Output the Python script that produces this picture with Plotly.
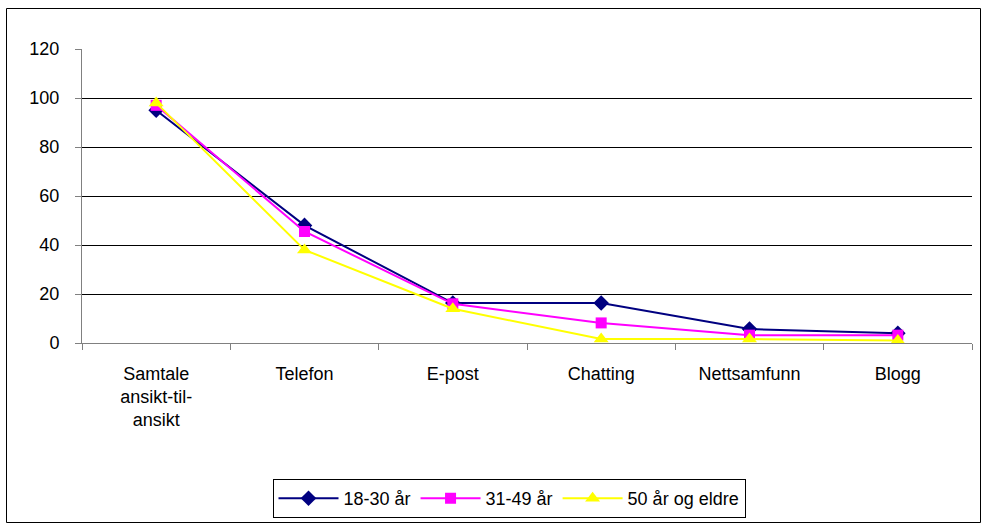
import plotly.graph_objects as go

categories = ["Samtale<br>ansikt-til-<br>ansikt", "Telefon", "E-post", "Chatting", "Nettsamfunn", "Blogg"]
s1_name = "18-30 år"
s1 = [95, 48, 16.3, 16.3, 5.7, 4]
s2_name = "31-49 år"
s2 = [97, 45.5, 16, 8.2, 3.2, 3.2]
s3_name = "50 år og eldre"
s3 = [98, 38, 14, 1.6, 1.6, 1]
y_ticks = [0, 20, 40, 60, 80, 100, 120]

L, R, T, B = 82, 11, 49, 181
W, H = 983, 524
pw, ph = W - L - R, H - T - B
FS = 18

fig = go.Figure()
# invisible helper trace so the grid-only overlay axis is drawn
fig.add_trace(go.Scatter(x=[categories[0]], y=[None], yaxis="y2", showlegend=False,
                         hoverinfo="skip", mode="lines"))
for name, vals, col, sym, ms in [(s1_name, s1, "#000080", "diamond", 12),
                                 (s2_name, s2, "#FF00FF", "square", 11),
                                 (s3_name, s3, "#FFFF00", "triangle-up", 13)]:
    fig.add_trace(go.Scatter(x=categories, y=vals, name=name, mode="lines+markers",
                             line=dict(color=col, width=2),
                             marker=dict(color=col, symbol=sym, size=ms)))

shapes = [dict(type="rect", xref="paper", yref="paper",
               x0=(6.5 - L) / pw, x1=(980.5 - L) / pw,
               y0=(H - B - 522.5) / ph, y1=(H - B - 8.5) / ph,
               line=dict(color="black", width=1))]

fig.update_layout(
    width=W, height=H, margin=dict(l=L, r=R, t=T, b=B, autoexpand=False),
    paper_bgcolor="white", plot_bgcolor="white",
    font=dict(family="Liberation Sans, Arial", size=FS, color="black"),
    showlegend=True,
    legend=dict(orientation="h", x=(509 - L) / pw, xanchor="center",
                y=(H - B - 479) / ph, yanchor="top",
                bordercolor="black", borderwidth=1, font=dict(size=FS),
                itemwidth=60, tracegroupgap=0),
    shapes=shapes,
    xaxis=dict(type="category", range=[-0.5, 5.5], showgrid=False, tickson="boundaries",
               ticks="outside", ticklen=6, tickcolor="#808080", showline=True,
               linecolor="#808080", linewidth=1, tickfont=dict(size=FS),
               ticklabelstandoff=14, automargin=False),
    yaxis=dict(range=[0, 120], tickvals=y_ticks, showgrid=False, ticks="outside", ticklen=6,
               tickcolor="#808080", showline=True, linecolor="#808080", linewidth=1,
               zeroline=False, tickfont=dict(size=FS), ticklabelstandoff=12, automargin=False),
    yaxis2=dict(overlaying="y", range=[0, 120], tickvals=y_ticks[1:-1], showgrid=True,
                gridcolor="black", gridwidth=1, showticklabels=False, ticks="",
                showline=False, zeroline=False, automargin=False),
)
fig.write_html("out.html", config={"displayModeBar": False},
               post_script="document.body.style.margin='0';document.body.style.overflow='hidden';")
